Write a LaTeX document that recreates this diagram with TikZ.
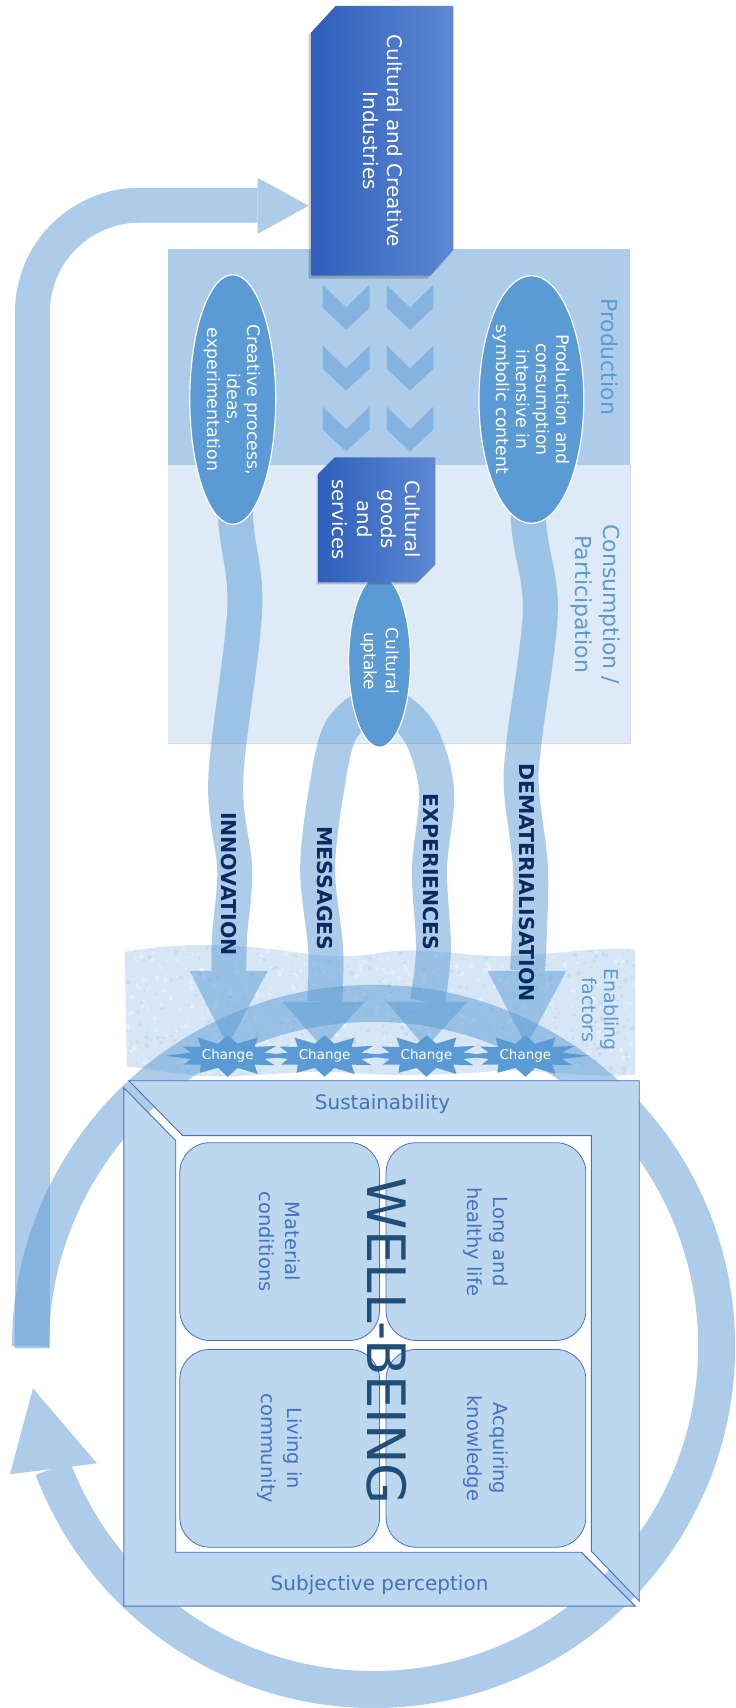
\documentclass[tikz,border=0pt]{standalone}
\usepackage{fontspec}
\setmainfont{DejaVu Sans}
\usetikzlibrary{shapes.geometric}
\pgfdeclarelayer{back}
\pgfdeclarelayer{flows}
\pgfsetlayers{back,flows,main}
\definecolor{midblue}{HTML}{5B9BD5}
\definecolor{ccil}{HTML}{2E5FBD}
\definecolor{ccir}{HTML}{5E88D1}
\definecolor{wbfill}{HTML}{BDD7EE}
\definecolor{wbline}{HTML}{4472C4}
\definecolor{navy}{HTML}{0B2A62}
\definecolor{wbtext}{HTML}{1F4E79}
\definecolor{enab}{HTML}{D6E6F5}
\newcommand\enabpath{(125,953) .. controls (170,945) and (220,944) .. (270,950) .. controls (310,955) and (340,961) .. (380,954) .. controls (420,947) and (460,957) .. (500,957) .. controls (550,957) and (590,948) .. (636,950) -- (636,1076) .. controls (590,1080) and (540,1070) .. (500,1072) .. controls (450,1076) and (400,1078) .. (350,1074) .. controls (300,1070) and (250,1080) .. (200,1077) .. controls (170,1075) and (145,1069) .. (127,1068) -- cycle}
\tikzset{
  rtext/.style={rotate=-90, inner sep=0pt, align=center},
  oval/.style={ellipse, fill=midblue, draw=white, line width=1.2pt, inner sep=0pt},
  ovaltext/.style={rtext, text=white, font=\fontsize{17.4}{20}\selectfont},
  boxtext/.style={rtext, text=white, font=\fontsize{19.6}{24.5}\selectfont},
  flowlabel/.style={rtext, anchor=east, text=navy, font=\bfseries\fontsize{20.5}{24}\selectfont},
  zonelabel/.style={rtext, text=midblue, font=\fontsize{22}{28}\selectfont},
  wbcell/.style={rotate=-90, draw=wbline, fill=wbfill, line width=0.8pt, rounded corners=30pt, minimum width=198pt, minimum height=200pt, inner sep=0pt, align=center, text=wbline, font=\fontsize{19.5}{25.5}\selectfont},
  wbpiece/.style={fill=wbfill, draw=wbline, line width=0.9pt, line join=miter},
  flowline/.style={draw=midblue, line width=#1, line cap=butt, line join=round},
  chev/.style={fill=midblue, fill opacity=0.5},
  changetxt/.style={text=white, inner sep=0pt, font=\fontsize{13.5}{15}\selectfont},
  flowgroup/.style={transparency group, opacity=0.5},
}
\begin{document}
\begin{tikzpicture}[x=1pt,y=-1pt]
% ================= MAIN LAYER =================
% change stars
\foreach \n/\cx in {s1/228,s2/325,s3/427,s4/526}{
  \begin{scope}[shift={(\cx,1057)}]
    \fill[midblue] (0:64 and 20) \foreach \a/\r in {30/56,60/62,90/62,120/58,150/52,180/64,210/54,240/62,270/60,300/62,330/58}{ -- (\a-15:38 and 12.5) -- (\a:\r*0.97 and \r*0.34)} -- (345:38 and 12.5) -- cycle;
  \end{scope}
  \node[changetxt] (\n) at (\cx,1057) {Change};
}
% well-being box
\fill[white] (176,1137) rectangle (592,1554);
\draw[wbpiece] (129,1082) -- (640,1082) -- (640,1603) -- (592,1553) -- (592,1137) -- (183,1137) -- cycle;
\draw[wbpiece] (124,1089) -- (176,1142) -- (176,1554) -- (582,1554) -- (636,1608) -- (124,1608) -- cycle;
\node[wbcell] (mat) at (280,1243) {Material\\conditions};
\node[wbcell] (lhl) at (486.5,1243) {Long and\\healthy life};
\node[wbcell] (lic) at (280,1450) {Living in\\community};
\node[wbcell] (acq) at (486.5,1450) {Acquiring\\knowledge};
\node[rtext, text=wbtext, font=\fontsize{53}{60}\selectfont] (wb) at (387.5,1343) {WELL-BEING};
\node[text=wbline, font=\fontsize{20}{24}\selectfont] (sus) at (383,1105) {Sustainability};
\node[text=wbline, font=\fontsize{20}{24}\selectfont] (subj) at (380,1587) {Subjective perception};
% ellipses
\node[oval, minimum width=86pt, minimum height=250pt] (e1) at (233,400) {};
\node[ovaltext] (e1t) at (e1) {Creative process,\\ideas,\\experimentation};
\node[oval, minimum width=105pt, minimum height=248pt] (e2) at (532,400) {};
\node[ovaltext] (e2t) at (e2) {Production and\\consumption\\intensive in\\symbolic content};
\node[oval, minimum width=62pt, minimum height=172pt] (e3) at (380,662) {};
\node[ovaltext, font=\fontsize{17}{22}\selectfont] (e3t) at (e3) {Cultural\\uptake};
% CCI box
\begin{scope}[shift={(-3,3)}]
  \fill[black, opacity=0.2] (336,6) -- (454,6) -- (454,250) -- (431,276) -- (312,276) -- (312,32) -- cycle;
\end{scope}
\shade[left color=ccil, right color=ccir] (336,6) -- (454,6) -- (454,250) -- (431,276) -- (312,276) -- (312,32) -- cycle;
\node[boxtext, font=\fontsize{20}{24}\selectfont] (cci) at (383,141) {Cultural and Creative\\Industries};
\coordinate (ccitip) at (309,206);
% goods box
\begin{scope}[shift={(-2,2)}]
  \fill[black, opacity=0.2] (335,458) -- (436,458) -- (436,565) -- (418,583) -- (319,583) -- (319,474) -- cycle;
\end{scope}
\shade[left color=ccil, right color=ccir] (335,458) -- (436,458) -- (436,565) -- (418,583) -- (319,583) -- (319,474) -- cycle;
\node[boxtext] (goods) at (377,520) {Cultural\\goods\\and\\services};
% zone labels
\node[zonelabel] (prod) at (610,357) {Production};
\node[zonelabel] (cons) at (596,605) {Consumption /\\Participation};
\node[zonelabel, font=\fontsize{19}{22}\selectfont] (enabl) at (601,1011) {Enabling\\factors};
% flow labels
\node[flowlabel] (lin) at (229,957) {INNOVATION};
\node[flowlabel] (lme) at (325,952) {MESSAGES};
\node[flowlabel] (lex) at (431,952) {EXPERIENCES};
\node[flowlabel] (lde) at (528,1003) {DEMATERIALISATION};
% named points
\coordinate (ringstart) at (30.5,1348);
\coordinate (loopstart) at (32.5,1350);
\coordinate (loopend) at (258,205.5);
\coordinate (a1) at (229,972);
\coordinate (a2) at (325,1003);
\coordinate (a3) at (428,1003);
\coordinate (a4) at (528,972);
\coordinate (archtop) at (380,704);

% ================= BACK LAYER =================
\begin{pgfonlayer}{back}
\fill[white] (0,0) rectangle (736,1708);
\fill[midblue, fill opacity=0.2] (168,466) rectangle (631,744);
\draw[black!15, line width=0.8pt] (168,744) -- (631,744) -- (631,466);
\fill[midblue, fill opacity=0.5] (168,249) rectangle (631,466);
\foreach \cx in {346.5,410.5}{\foreach \ty in {285,346,407}{
  \fill[chev] (\cx-23.5,\ty) -- (\cx,\ty+23) -- (\cx+23.5,\ty) -- (\cx+23.5,\ty+23) -- (\cx,\ty+45) -- (\cx-23.5,\ty+23) -- cycle;}}
\fill[enab] \enabpath;
\begin{scope}
  \clip \enabpath;
  \pgfmathsetseed{11}
  \foreach \i in {1,...,700}{
    \pgfmathsetmacro\xx{125+512*rnd}\pgfmathsetmacro\yy{944+136*rnd}\pgfmathsetmacro\rr{0.8+1.8*rnd}
    \fill[white, opacity=0.3] (\xx,\yy) circle[radius=\rr];}
  \foreach \i in {1,...,500}{
    \pgfmathsetmacro\xx{125+512*rnd}\pgfmathsetmacro\yy{944+136*rnd}\pgfmathsetmacro\rr{0.8+1.6*rnd}
    \fill[midblue, opacity=0.12] (\xx,\yy) circle[radius=\rr];}
\end{scope}
\end{pgfonlayer}

% ================= FLOWS LAYER =================
\begin{pgfonlayer}{flows}
% big ring around well-being
\begin{scope}[flowgroup]
  \path (0,960) rectangle (736,1708);
  \draw[flowline=37pt] (ringstart) arc[start angle=180, end angle=519.2, radius=343.5];
  \fill[midblue] (10,1476) -- (33,1390) -- (97,1465) -- cycle;
\end{scope}
% return loop to CCI
\begin{scope}[flowgroup]
  \path (0,170) rectangle (320,1360);
  \draw[flowline=35pt, rounded corners=107pt] (loopstart) |- (loopend);
  \fill[midblue] (258,178) -- (ccitip) -- (258,234) -- cycle;
\end{scope}
% innovation
\begin{scope}[flowgroup]
  \path (150,380) rectangle (300,1060);
  \draw[flowline=35pt] plot[smooth, tension=0.55] coordinates {(e1.center) (236,520) (245,610) (226,780) (235,870) (230,935) (a1)};
  \fill[midblue] (190,972) -- (228,1047) -- (268,972) -- cycle;
\end{scope}
% messages / experiences arch
\begin{scope}[flowgroup]
  \path (260,650) rectangle (500,1060);
  \draw[flowline=35pt] plot[smooth, tension=0.55] coordinates {(a2) (326,950) (318,870) (327,790) (342,730) (archtop) (418,730) (437,790) (430,870) (434,950) (a3)};
  \fill[midblue] (283,1003) -- (323,1049) -- (365,1003) -- cycle;
  \fill[midblue] (387,1003) -- (426,1049) -- (468,1003) -- cycle;
\end{scope}
% dematerialisation
\begin{scope}[flowgroup]
  \path (460,380) rectangle (600,1060);
  \draw[flowline=35pt] plot[smooth, tension=0.55] coordinates {(e2.center) (529,520) (541,610) (525,740) (522,790) (531,867) (530,935) (a4)};
  \fill[midblue] (488,972) -- (527,1047) -- (567,972) -- cycle;
\end{scope}
\end{pgfonlayer}
\end{tikzpicture}
\end{document}
